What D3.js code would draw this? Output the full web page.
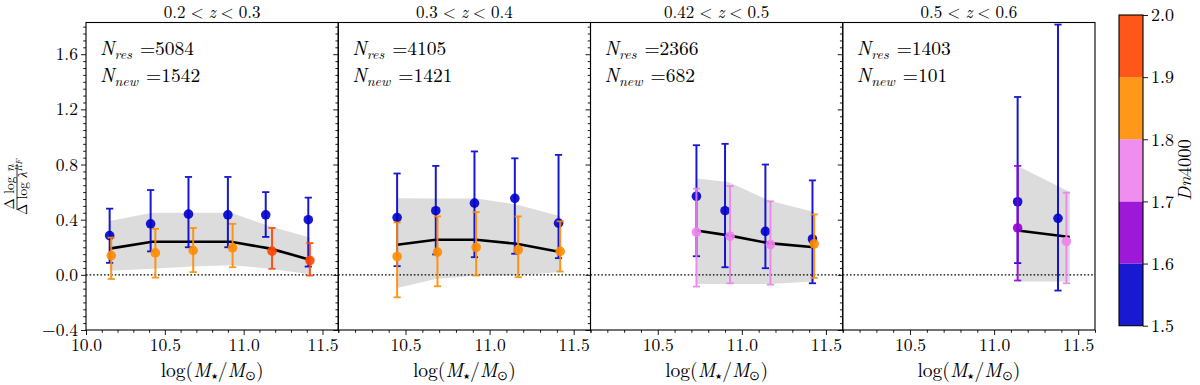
<!DOCTYPE html>
<html><head><meta charset="utf-8">
<script src="https://cdn.jsdelivr.net/npm/d3@7"></script>
<style>
body{margin:0;background:#fff}
svg{display:block}
</style>
</head><body>
<svg id="c" width="1200" height="385"></svg>
<script>
// ---------------- data ----------------
const zLow  = ["0.2", "0.3", "0.42", "0.5"];
const zHigh = ["0.3", "0.4", "0.5", "0.6"];
const nRes  = [5084, 4105, 2366, 1403];
const nNew  = [1542, 1421, 682, 101];
const xMin  = [10.0, 10.1, 10.1, 10.1];
const xMax  = [11.6, 11.6, 11.6, 11.6];
const xTicks = [10.0, 10.5, 11.0, 11.5];
const yTicks = [-0.4, 0.0, 0.4, 0.8, 1.2, 1.6];
const cbTicks = [1.5, 1.6, 1.7, 1.8, 1.9, 2.0];
const cbBins = [1.5, 1.6, 1.7, 1.8, 1.9];
const cbColors = ["mediumblue", "darkviolet", "violet", "darkorange", "orangered"];

// residual-sample points (blue)
const resMass = [[10.15,10.41,10.65,10.90,11.14,11.41],[10.45,10.68,10.91,11.15,11.41],[10.73,10.90,11.14,11.42],[11.14,11.38]];
const resVal  = [[0.285,0.37,0.44,0.435,0.435,0.40],[0.415,0.465,0.52,0.555,0.375],[0.57,0.465,0.315,0.26],[0.53,0.41]];
const resLo   = [[0.087,0.17,0.20,0.20,0.275,0.06],[0.063,0.148,0.128,0.153,0.121],[0.135,0.055,0.048,-0.061],[0.085,-0.114]];
const resHi   = [[0.48,0.615,0.71,0.71,0.60,0.56],[0.735,0.79,0.895,0.845,0.87],[0.94,0.95,0.80,0.685],[1.29,1.815]];
const resDn   = [[1.55,1.55,1.55,1.55,1.55,1.55],[1.55,1.55,1.55,1.55,1.55],[1.55,1.55,1.55,1.55],[1.55,1.55]];

// new-sample points (coloured by Dn4000)
const newMass = [[10.16,10.44,10.68,10.93,11.18,11.42],[10.45,10.69,10.92,11.17,11.42],[10.73,10.93,11.17,11.43],[11.14,11.43]];
const newVal  = [[0.14,0.16,0.177,0.196,0.172,0.104],[0.133,0.165,0.20,0.182,0.17],[0.31,0.28,0.22,0.225],[0.34,0.242]];
const newLo   = [[-0.03,-0.02,0.02,0.055,0.044,-0.005],[-0.163,-0.083,-0.005,-0.017,0.024],[-0.085,-0.061,-0.071,-0.022],[-0.041,-0.061]];
const newHi   = [[0.27,0.334,0.34,0.37,0.34,0.23],[0.38,0.424,0.455,0.424,0.388],[0.625,0.644,0.533,0.438],[0.79,0.596]];
const newDn   = [[1.85,1.85,1.85,1.85,1.95,1.95],[1.85,1.85,1.85,1.85,1.85],[1.75,1.75,1.75,1.85],[1.65,1.75]];

// median relation and its spread
const medMass = [[10.15,10.42,10.67,10.92,11.17,11.42],[10.45,10.68,10.92,11.16,11.42],[10.73,10.92,11.16,11.43],[11.14,11.45]];
const medVal  = [[0.19,0.24,0.24,0.24,0.19,0.11],[0.218,0.255,0.255,0.225,0.165],[0.322,0.286,0.23,0.20],[0.322,0.274]];
const bandLo  = [[0.03,0.045,0.06,0.07,0.045,0.005],[-0.095,-0.03,-0.005,-0.005,0.02],[-0.066,-0.066,-0.066,-0.049],[-0.049,-0.049]];
const bandHi  = [[0.39,0.45,0.45,0.45,0.35,0.27],[0.555,0.553,0.553,0.51,0.425],[0.698,0.673,0.54,0.455],[0.79,0.60]];

// ---------------- layout ----------------
const FONT = '"Latin Modern Roman", "Liberation Serif", serif';
const svg = d3.select("#c");
const left0 = 86, pw = 252.25, plotTop = 22.5, plotBottom = 330;
const y = d3.scaleLinear().domain([-0.4, 1.83]).range([plotBottom, plotTop]);
const color = d3.scaleThreshold().domain([1.6, 1.7, 1.8, 1.9]).range(cbColors);
const yMinor = d3.range(-8, 37).map(i => +(i * 0.05).toFixed(2)).filter(v => !yTicks.some(t => Math.abs(t - v) < 1e-6));

function styleAxis(g, fs) {
  g.select(".domain").remove();
  g.selectAll(".tick line").attr("stroke", "#000").attr("stroke-width", 0.9);
  g.selectAll(".tick text").attr("font-size", fs || 17.5);
}

for (let p = 0; p < 4; p++) {
  const x0 = left0 + p * pw;
  const x = d3.scaleLinear().domain([xMin[p], xMax[p]]).range([x0, x0 + pw]);
  const g = svg.append("g");

  // band
  const bandData = medMass[p].map((m, i) => ({m, lo: bandLo[p][i], hi: bandHi[p][i]}));
  g.append("path").datum(bandData)
    .attr("fill", "#dcdcdc")
    .attr("d", d3.area().x(d => x(d.m)).y0(d => y(d.lo)).y1(d => y(d.hi)));

  // zero line
  g.append("line").attr("x1", x0).attr("x2", x0 + pw).attr("y1", y(0)).attr("y2", y(0))
    .attr("stroke", "#000").attr("stroke-width", 1.2).attr("stroke-dasharray", "1.6,2");

  // median line
  g.append("path").datum(medMass[p].map((m, i) => [m, medVal[p][i]]))
    .attr("fill", "none").attr("stroke", "#000").attr("stroke-width", 2.6)
    .attr("d", d3.line().x(d => x(d[0])).y(d => y(d[1])));

  // points with error bars
  function drawSeries(mass, val, lo, hi, dn) {
    const pts = mass.map((m, i) => ({m, v: val[i], lo: lo[i], hi: hi[i], c: color(dn[i])}));
    const eg = g.append("g");
    pts.forEach(d => {
      const cx = x(d.m);
      const s = eg.append("g").attr("opacity", 0.9);
      s.append("line").attr("x1", cx).attr("x2", cx).attr("y1", y(d.lo)).attr("y2", y(d.hi))
        .attr("stroke", d.c).attr("stroke-width", 2);
      [d.lo, d.hi].forEach(v => s.append("line").attr("x1", cx - 3.6).attr("x2", cx + 3.6)
        .attr("y1", y(v)).attr("y2", y(v)).attr("stroke", d.c).attr("stroke-width", 1.8));
    });
    eg.selectAll("circle").data(pts).join("circle")
      .attr("cx", d => x(d.m)).attr("cy", d => y(d.v)).attr("r", 4.8)
      .attr("fill", d => d.c).attr("opacity", 0.9);
  }
  drawSeries(resMass[p], resVal[p], resLo[p], resHi[p], resDn[p]);
  drawSeries(newMass[p], newVal[p], newLo[p], newHi[p], newDn[p]);

  // frame
  g.append("rect").attr("x", x0).attr("y", plotTop).attr("width", pw).attr("height", plotBottom - plotTop)
    .attr("fill", "none").attr("stroke", "#000").attr("stroke-width", 1.1);

  // y axis
  const ya = g.append("g").attr("transform", `translate(${x0},0)`)
    .call(d3.axisLeft(y).tickValues(yTicks).tickSize(5).tickPadding(3)
      .tickFormat(p === 0 ? d3.format(".1f") : () => ""));
  styleAxis(ya);
  const ym = g.append("g").attr("transform", `translate(${x0},0)`)
    .call(d3.axisLeft(y).tickValues(yMinor).tickSize(2.8).tickFormat(() => ""));
  styleAxis(ym);

  // x axis
  const xt = xTicks.filter(t => t >= xMin[p] - 1e-9 && t <= xMax[p] + 1e-9);
  const xMinorT = d3.range(100, 117).map(i => i / 10).filter(v => v >= xMin[p] - 1e-9 && v <= xMax[p] + 1e-9 && !xt.some(t => Math.abs(t - v) < 1e-6));
  const xa = g.append("g").attr("transform", `translate(0,${plotBottom})`)
    .call(d3.axisBottom(x).tickValues(xt).tickSize(5).tickPadding(4).tickFormat(d3.format(".1f")));
  styleAxis(xa);
  const xm = g.append("g").attr("transform", `translate(0,${plotBottom})`)
    .call(d3.axisBottom(x).tickValues(xMinorT).tickSize(2.8).tickFormat(() => ""));
  styleAxis(xm);

  // x label
  const xl = g.append("text").attr("x", x0 + pw / 2).attr("y", 377).attr("text-anchor", "middle").attr("font-size", 19.5);
  xl.append("tspan").text("log(");
  xl.append("tspan").attr("font-style", "italic").text("M");
  xl.append("tspan").attr("font-size", 8).attr("dy", 2).text("★");
  xl.append("tspan").attr("dy", -2).text("/");
  xl.append("tspan").attr("font-style", "italic").text("M");
  xl.append("tspan").attr("font-size", 12.5).attr("dy", 3).text("⊙");
  xl.append("tspan").attr("dy", -3).text(")");

  // title
  const tt = g.append("text").attr("x", x0 + pw / 2).attr("y", 17.5).attr("text-anchor", "middle").attr("font-size", 17);
  tt.append("tspan").text(zLow[p]);
  tt.append("tspan").attr("dx", 5).text("<");
  tt.append("tspan").attr("dx", 5).attr("font-style", "italic").text("z");
  tt.append("tspan").attr("dx", 5).text("<");
  tt.append("tspan").attr("dx", 5).text(zHigh[p]);

  // annotations
  [["res", nRes[p], 55], ["new", nNew[p], 82]].forEach(([sub, n, by]) => {
    const t = g.append("text").attr("x", x0 + 14).attr("y", by).attr("font-size", 19.5);
    t.append("tspan").attr("font-style", "italic").text("N");
    t.append("tspan").attr("font-style", "italic").attr("font-size", 14).attr("dy", 4).text(sub);
    t.append("tspan").attr("dy", -4).attr("dx", 8).text("=" + n);
  });
}

// y label (fraction)
const yl = svg.append("g").attr("transform", "translate(17,187) rotate(-90)");
const num = yl.append("text").attr("x", 0).attr("y", -3).attr("text-anchor", "middle").attr("font-size", 13.5);
num.append("tspan").text("Δ log ");
num.append("tspan").attr("font-style", "italic").text("n");
yl.append("line").attr("x1", -23).attr("x2", 23).attr("y1", 0).attr("y2", 0).attr("stroke", "#000").attr("stroke-width", 0.8);
const den = yl.append("text").attr("x", 0).attr("y", 10).attr("text-anchor", "middle").attr("font-size", 13.5);
den.append("tspan").text("Δ log ");
den.append("tspan").attr("font-style", "italic").text("λ");
den.append("tspan").attr("font-style", "italic").attr("font-size", 9).attr("dy", -5).text("RF");

// colorbar
const cbX = 1119, cbW = 24;
const cy = d3.scaleLinear().domain([1.5, 2.0]).range([325.7, 15]);
svg.append("g").selectAll("rect").data(cbBins).join("rect")
  .attr("x", cbX).attr("width", cbW)
  .attr("y", d => cy(d + 0.1)).attr("height", d => cy(d) - cy(d + 0.1))
  .attr("fill", d => color(d + 0.05)).attr("opacity", 0.9);
svg.append("rect").attr("x", cbX).attr("y", 15).attr("width", cbW).attr("height", 310.7)
  .attr("fill", "none").attr("stroke", "#000").attr("stroke-width", 1.1);
const ca = svg.append("g").attr("transform", `translate(${cbX + cbW},0)`)
  .call(d3.axisRight(cy).tickValues(cbTicks).tickSize(5).tickPadding(3).tickFormat(d3.format(".1f")));
styleAxis(ca, 18);
const cl = svg.append("text").attr("transform", "translate(1191,170) rotate(-90)").attr("text-anchor", "middle").attr("font-size", 18.5);
cl.append("tspan").attr("font-style", "italic").text("Dn");
cl.append("tspan").text("4000");

svg.selectAll("text").style("font-family", FONT).style("fill", "#000");
</script>
</body></html>
